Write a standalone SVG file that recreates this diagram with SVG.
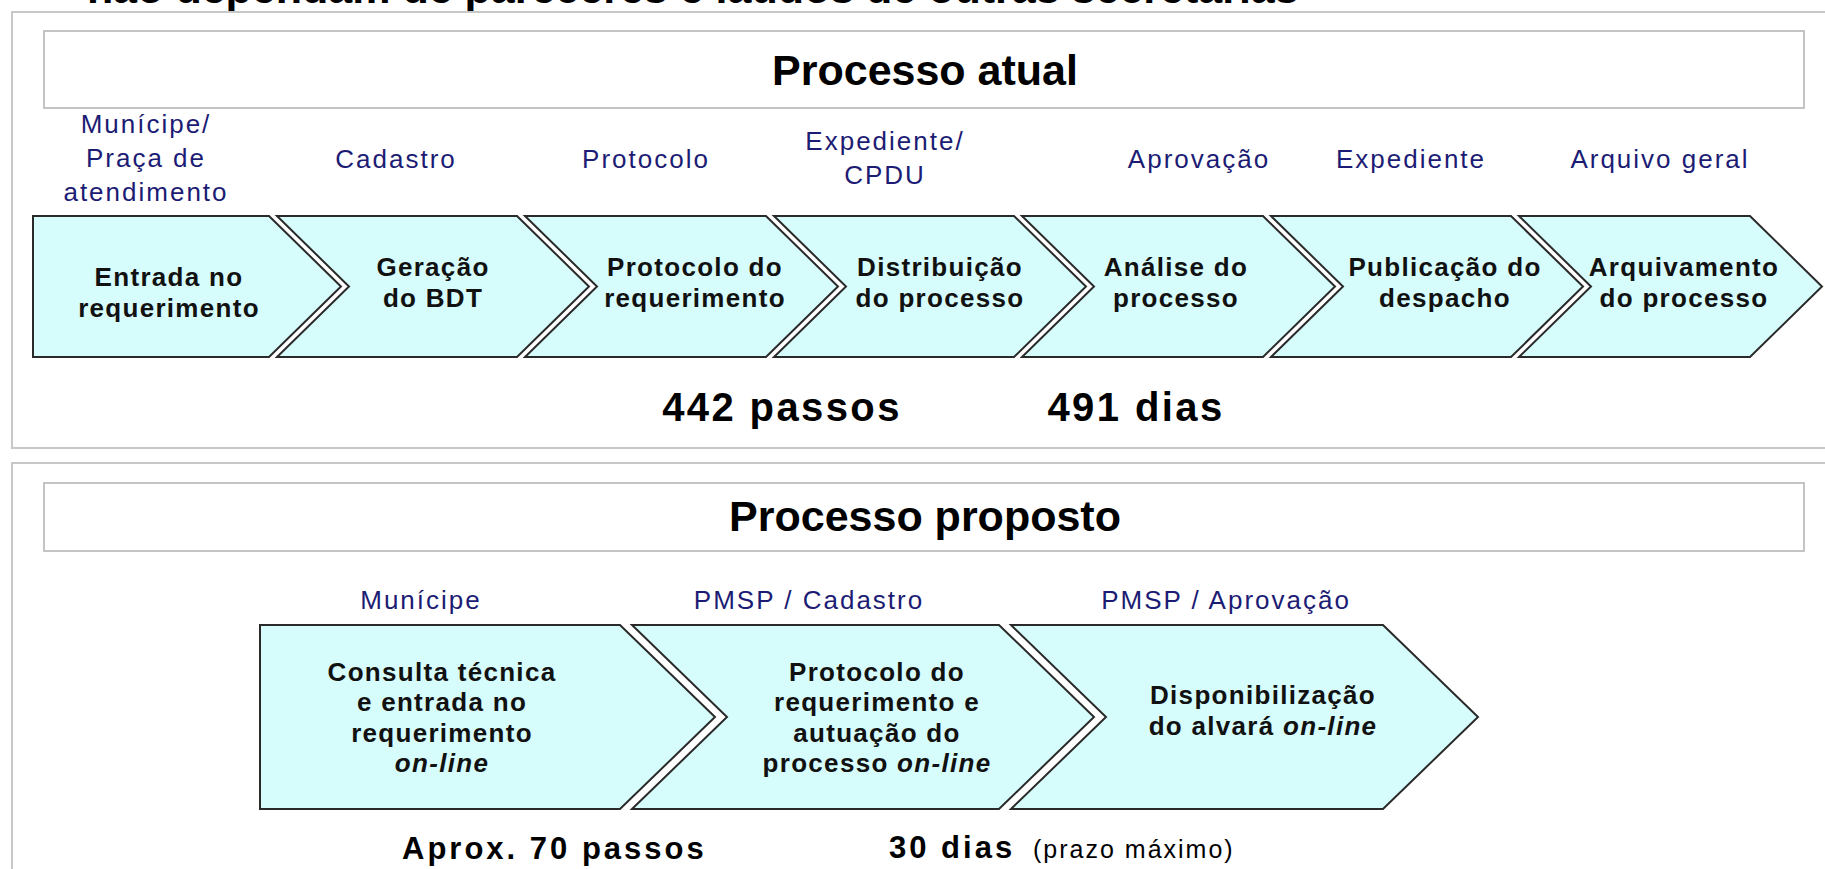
<svg xmlns="http://www.w3.org/2000/svg" width="1825" height="869" viewBox="0 0 1825 869">
<style>
.frame{fill:#ffffff;stroke:#c8c8c8;stroke-width:2}
.tbox{fill:#ffffff;stroke:#c4c4c4;stroke-width:2}
.chev{fill:#d6fcfc;stroke:#2a2a2a;stroke-width:2;stroke-linejoin:miter}
.title{font-family:"Liberation Sans",Arial,sans-serif;font-weight:bold;font-size:43px;fill:#000;text-anchor:middle}
.lane{font-family:"Liberation Sans",Arial,sans-serif;font-size:26px;fill:#1c1c74;text-anchor:middle;letter-spacing:2px}
.ct{font-family:"Liberation Sans",Arial,sans-serif;font-weight:bold;font-size:26px;fill:#111;text-anchor:middle;letter-spacing:1.3px}
.big{font-family:"Liberation Sans",Arial,sans-serif;font-weight:bold;font-size:40px;fill:#000;text-anchor:middle;letter-spacing:2.4px}
.mid{font-family:"Liberation Sans",Arial,sans-serif;font-weight:bold;font-size:31px;fill:#000;letter-spacing:3px}
.small{font-family:"Liberation Sans",Arial,sans-serif;font-weight:normal;font-size:25px;fill:#000;letter-spacing:2px}
</style>
<rect width="1825" height="869" fill="#ffffff"/>
<text x="87" y="3" font-family="Liberation Sans, Arial, sans-serif" font-weight="bold" font-size="43" fill="#000">não dependam de pareceres e laudos de outras secretarias</text>

<g id="panel-atual">
<rect class="frame" x="12" y="12" width="1830" height="436"/>
<rect class="tbox" x="44" y="31" width="1760" height="77"/>
<text class="title" x="925" y="85">Processo atual</text>
</g>

<g id="panel-proposto">
<rect class="frame" x="12" y="463" width="1830" height="430"/>
<rect class="tbox" x="44" y="483" width="1760" height="68"/>
<text class="title" x="925" y="531">Processo proposto</text>
</g>

<g id="lanes-atual">
<text class="lane" x="146" y="133">Munícipe/</text>
<text class="lane" x="146" y="167">Praça de</text>
<text class="lane" x="146" y="201">atendimento</text>
<text class="lane" x="396" y="168">Cadastro</text>
<text class="lane" x="646" y="168">Protocolo</text>
<text class="lane" x="885" y="150">Expediente/</text>
<text class="lane" x="885" y="184">CPDU</text>
<text class="lane" x="1199" y="168">Aprovação</text>
<text class="lane" x="1411" y="168">Expediente</text>
<text class="lane" x="1660" y="168">Arquivo geral</text>
</g>

<g id="node-entrada">
<polygon class="chev" points="33,216 269,216 341,286.5 269,357 33,357"/>
<text class="ct" x="169" y="286">Entrada no</text>
<text class="ct" x="169" y="317">requerimento</text>
</g>
<g id="node-geracao">
<polygon class="chev" points="277,216 517,216 589,286.5 517,357 277,357 349,286.5"/>
<text class="ct" x="433" y="276">Geração</text>
<text class="ct" x="433" y="307">do BDT</text>
</g>
<g id="node-protocolo">
<polygon class="chev" points="525,216 766,216 838,286.5 766,357 525,357 597,286.5"/>
<text class="ct" x="695" y="276">Protocolo do</text>
<text class="ct" x="695" y="307">requerimento</text>
</g>
<g id="node-distribuicao">
<polygon class="chev" points="774,216 1014,216 1086,286.5 1014,357 774,357 846,286.5"/>
<text class="ct" x="940" y="276">Distribuição</text>
<text class="ct" x="940" y="307">do processo</text>
</g>
<g id="node-analise">
<polygon class="chev" points="1022,216 1263,216 1335,286.5 1263,357 1022,357 1094,286.5"/>
<text class="ct" x="1176" y="276">Análise do</text>
<text class="ct" x="1176" y="307">processo</text>
</g>
<g id="node-publicacao">
<polygon class="chev" points="1271,216 1511,216 1583,286.5 1511,357 1271,357 1343,286.5"/>
<text class="ct" x="1445" y="276">Publicação do</text>
<text class="ct" x="1445" y="307">despacho</text>
</g>
<g id="node-arquivamento">
<polygon class="chev" points="1519,216 1750,216 1822,286.5 1750,357 1519,357 1591,286.5"/>
<text class="ct" x="1684" y="276">Arquivamento</text>
<text class="ct" x="1684" y="307">do processo</text>
</g>

<g id="totals-atual">
<text class="big" x="782" y="421">442 passos</text>
<text class="big" x="1136" y="421">491 dias</text>
</g>

<g id="lanes-proposto">
<text class="lane" x="421" y="609">Munícipe</text>
<text class="lane" x="809" y="609">PMSP / Cadastro</text>
<text class="lane" x="1226" y="609">PMSP / Aprovação</text>
</g>

<g id="node-consulta">
<polygon class="chev" points="260,625 620,625 715,717 620,809 260,809"/>
<text class="ct" x="442" y="681">Consulta técnica</text>
<text class="ct" x="442" y="711">e entrada no</text>
<text class="ct" x="442" y="742">requerimento</text>
<text class="ct" x="442" y="772" font-style="italic">on-line</text>
</g>
<g id="node-autuacao">
<polygon class="chev" points="632,625 999,625 1094,717 999,809 632,809 727,717"/>
<text class="ct" x="877" y="681">Protocolo do</text>
<text class="ct" x="877" y="711">requerimento e</text>
<text class="ct" x="877" y="742">autuação do</text>
<text class="ct" x="877" y="772">processo <tspan font-style="italic">on-line</tspan></text>
</g>
<g id="node-disponibilizacao">
<polygon class="chev" points="1011,625 1383,625 1478,717 1383,809 1011,809 1106,717"/>
<text class="ct" x="1263" y="704">Disponibilização</text>
<text class="ct" x="1263" y="735">do alvará <tspan font-style="italic">on-line</tspan></text>
</g>

<g id="totals-proposto">
<text class="mid" x="402" y="859" font-size="33" letter-spacing="3">Aprox. 70 passos</text>
<text class="mid" x="889" y="858">30 dias</text>
<text class="small" x="1033" y="858">(prazo máximo)</text>
</g>
<g id="connectors"></g>
</svg>
